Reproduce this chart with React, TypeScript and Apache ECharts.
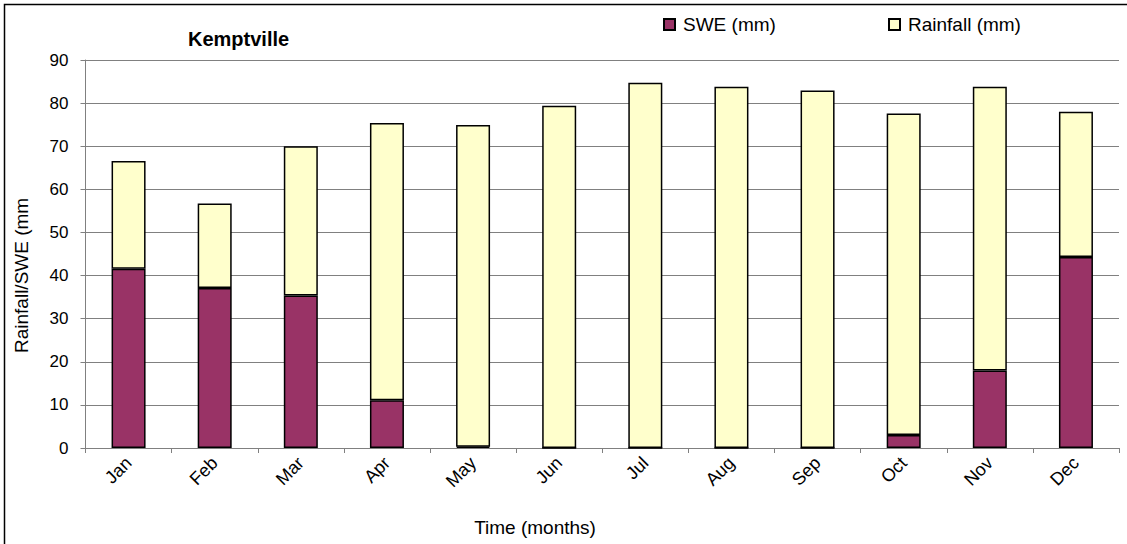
import React, { useEffect, useRef } from "react";
import * as echarts from "echarts";

const months = ["Jan", "Feb", "Mar", "Apr", "May", "Jun", "Jul", "Aug", "Sep", "Oct", "Nov", "Dec"];
const swe = [41.6, 37.1, 35.4, 11.1, 0.3, 0, 0, 0, 0, 3.0, 18.0, 44.3];
const rainfall = [25.0, 19.6, 34.6, 64.3, 74.6, 79.4, 84.7, 83.8, 82.9, 74.6, 65.8, 33.7];
const yTicks = [0, 10, 20, 30, 40, 50, 60, 70, 80, 90];

const FONT = "Liberation Sans, Arial, sans-serif";

export default function App() {
  const ref = useRef<HTMLDivElement>(null);

  useEffect(() => {
    if (!ref.current) return;
    const chart = echarts.init(ref.current, undefined, { renderer: "svg" });
    const legendText = { fontFamily: FONT, fontSize: 19, color: "#000", padding: [0, 0, 0, 3] };
    const legendBase = {
      top: 10,
      itemWidth: 11,
      itemHeight: 11,
      itemGap: 5,
      icon: "rect",
      textStyle: legendText,
    };
    chart.setOption({
      animation: false,
      backgroundColor: "#ffffff",
      textStyle: { fontFamily: FONT, color: "#000" },
      title: {
        text: "Kemptville",
        left: 183,
        top: 24,
        textStyle: { fontFamily: FONT, fontSize: 20, fontWeight: "bold", color: "#000" },
      },
      legend: [
        { ...legendBase, data: ["SWE (mm)"], left: 658 },
        { ...legendBase, data: ["Rainfall (mm)"], left: 883 },
      ],
      grid: { left: 85.5, right: 8, top: 60, bottom: 96, containLabel: false },
      xAxis: {
        type: "category",
        data: months,
        axisLine: { lineStyle: { color: "#808080", width: 1 } },
        axisTick: { show: true, length: 5, lineStyle: { color: "#808080" } },
        axisLabel: {
          rotate: 45,
          fontFamily: FONT,
          fontSize: 18,
          color: "#000",
          margin: 12,
        },
      },
      yAxis: {
        type: "value",
        min: 0,
        max: yTicks[yTicks.length - 1],
        interval: 10,
        axisLine: { show: true, lineStyle: { color: "#808080", width: 1 } },
        axisTick: { show: true, length: 5, lineStyle: { color: "#808080" } },
        axisLabel: { fontFamily: FONT, fontSize: 17, color: "#000", margin: 17 },
        splitLine: { show: true, lineStyle: { color: "#808080", width: 1 } },
      },
      series: [
        {
          name: "SWE (mm)",
          type: "bar",
          stack: "total",
          data: swe,
          barWidth: 34,
          itemStyle: { color: "#993366", borderColor: "#000", borderWidth: 1.5 },
        },
        {
          name: "Rainfall (mm)",
          type: "bar",
          stack: "total",
          data: rainfall,
          barWidth: 34,
          itemStyle: { color: "#FFFFCC", borderColor: "#000", borderWidth: 1.5 },
        },
      ],
      graphic: [
        {
          type: "rect",
          shape: { x: 4.5, y: 4.5, width: 1140, height: 560 },
          style: { fill: "none", stroke: "#000", lineWidth: 1.5 },
          silent: true,
        },
        {
          type: "text",
          x: 21,
          y: 353,
          rotation: Math.PI / 2,
          style: {
            text: "Rainfall/SWE (mm",
            fontFamily: FONT,
            fontSize: 19,
            fill: "#000",
            align: "left",
            verticalAlign: "middle",
          },
        },
        {
          type: "text",
          x: 535,
          y: 527,
          style: {
            text: "Time (months)",
            fontFamily: FONT,
            fontSize: 19,
            fill: "#000",
            align: "center",
            verticalAlign: "middle",
          },
        },
      ],
    });
    return () => chart.dispose();
  }, []);

  return <div ref={ref} style={{ width: 1127, height: 544, position: "absolute", left: 0, top: 0 }} />;
}
